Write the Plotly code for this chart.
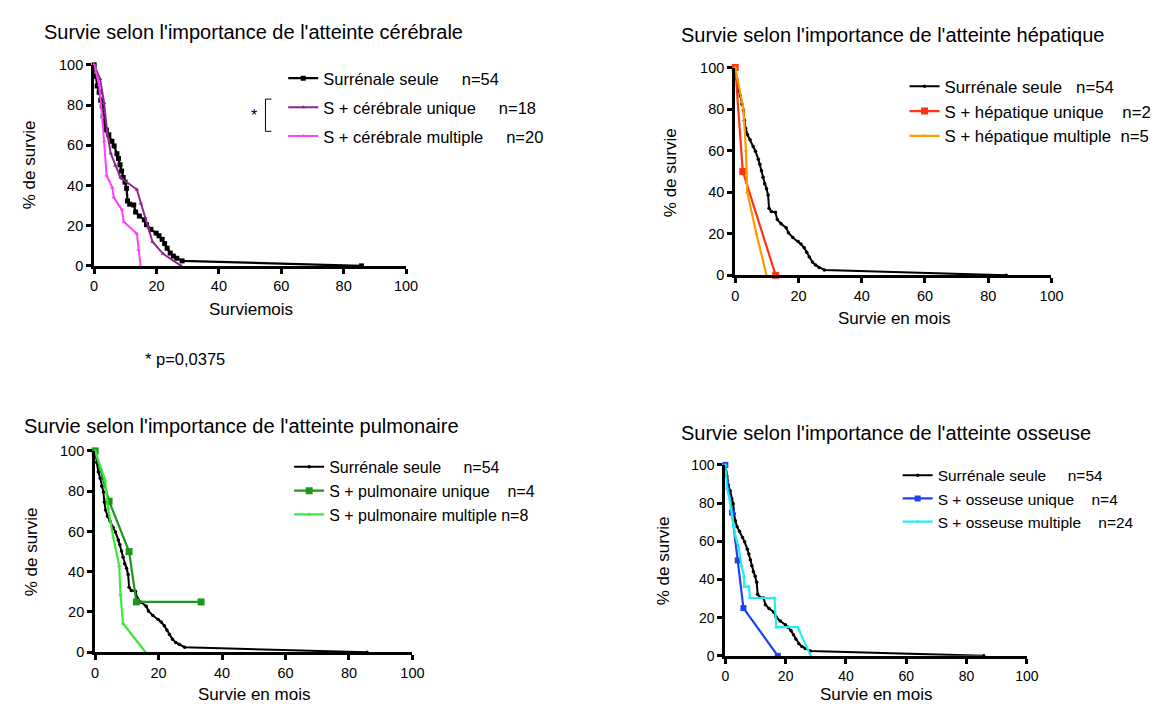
import plotly.graph_objects as go

W, H = 1163, 706

# ---------------- data ----------------
months_ticks = [0, 20, 40, 60, 80, 100]
pct_ticks = [0, 20, 40, 60, 80, 100]

# Surrénale seule n=54 (same group on all four panels)
surr_t = [0, 0.5, 1.0, 1.6, 2.1, 2.6, 2.9, 3.3, 3.9, 4.7, 5.7, 6.4, 7.3, 7.8, 8.3, 8.8,
          9.3, 9.9, 10.4, 10.7, 11.4, 12.7, 13.3, 14.5, 16.1, 16.8, 18.2, 19.9, 20.8,
          21.8, 22.6, 23.4, 24.4, 25.4, 26.5, 28.2, 85.7]
surr_s = [100, 94.2, 89.5, 86.4, 82.4, 79.6, 74.6, 70.7, 67.6, 65.2, 62.0, 59.7, 55.8,
          53.4, 50.3, 47.2, 44.0, 41.7, 38.6, 32.3, 30.7, 30.3, 26.8, 24.8, 22.9, 20.5,
          18.2, 16.3, 15.0, 13.2, 11.1, 8.8, 6.4, 4.9, 3.8, 2.5, 0]

# Panel 1 : cérébrale
cer_uni_t = [0, 1.9, 3.2, 4.2, 5.3, 6.8, 8.4, 13.7, 15.0, 17.4, 18.7, 22.1, 27.9]
cer_uni_s = [100, 93, 81, 66, 56, 50, 44, 38, 31, 19, 12, 6, 0]
cer_mul_t = [0, 1.6, 2.6, 3.2, 4.0, 5.8, 6.3, 8.9, 9.5, 13.7, 14.2, 14.9]
cer_mul_s = [100, 90, 74, 62, 45, 39, 34, 28, 22, 16, 8, 0]

# Panel 2 : hépatique
hep_uni_t = [0, 2.4, 12.8]
hep_uni_s = [100, 50, 0]
hep_mul_t = [0, 2.6, 3.4, 3.8, 6.7, 9.9]
hep_mul_s = [100, 80, 60, 40, 20, 0]

# Panel 3 : pulmonaire
pul_uni_t = [0, 4.4, 10.7, 13.0, 33.4]
pul_uni_s = [100, 75, 50, 25, 25]
pul_mul_t = [0, 3.1, 4.1, 5.7, 7.6, 8.0, 8.8, 15.9]
pul_mul_s = [100, 85.7, 71.4, 57.1, 42.9, 28.6, 14.3, 0]

# Panel 4 : osseuse
oss_uni_t = [0, 2.2, 4.1, 6.0, 17.4]
oss_uni_s = [100, 75, 50, 25, 0]
oss_mul_t = [0, 0.5, 1.3, 2.7, 3.3, 4.4, 5.4, 6.2, 6.3, 7.8, 8.2, 16.3, 16.9, 24.0, 28.3]
oss_mul_s = [100, 88, 82.5, 68, 63, 57, 47, 41.6, 36.3, 36.3, 30.3, 30.3, 15, 15, 0]

titles = ["Survie selon l'importance de l'atteinte cérébrale",
          "Survie selon l'importance de l'atteinte hépatique",
          "Survie selon l'importance de l'atteinte pulmonaire",
          "Survie selon l'importance de l'atteinte osseuse"]
xtitles = ["Surviemois", "Survie en mois", "Survie en mois", "Survie en mois"]
ytitle = "% de survie"

NB = "\u00a0"
FONT = "Liberation Sans, Arial, Helvetica, sans-serif"


def px_x(p):
    return p / W


def px_y(p):
    return 1 - p / H


fig = go.Figure()

# panel geometry in pixels: (left, right, top, bottom)
panels = [
    dict(l=83.3, r=399.5, t=50.0, b=255.7, tick=14.5),
    dict(l=733.3, r=1054.0, t=52.7, b=265.3, tick=14.5),
    dict(l=84.3, r=406.0, t=445.0, b=651.0, tick=14.5),
    dict(l=723.3, r=1029.0, t=459.3, b=654.7, tick=14),
]

series = [
    [  # panel 1
        dict(t=surr_t, s=surr_s, name="Surrénale seule" + NB * 5 + "n=54", color="black",
             sym="square", size=5, width=2.2),
        dict(t=cer_uni_t, s=cer_uni_s, name="S + cérébrale unique" + NB * 5 + "n=18",
             color="#8E278D", sym="triangle-up", size=4, width=2),
        dict(t=cer_mul_t, s=cer_mul_s, name="S + cérébrale multiple" + NB * 5 + "n=20",
             color="#FF40FF", sym="triangle-up", size=4, width=2),
    ],
    [  # panel 2
        dict(t=surr_t, s=surr_s, name="Surrénale seule" + NB * 3 + "n=54", color="black",
             sym="circle", size=3.5, width=2),
        dict(t=hep_uni_t, s=hep_uni_s, name="S + hépatique unique" + NB * 4 + "n=2",
             color="#FF3311", sym="square", size=7, width=2.2),
        dict(t=hep_mul_t, s=hep_mul_s, name="S + hépatique multiple" + NB * 2 + "n=5",
             color="#FF9A00", sym="triangle-up", size=4, width=2.2),
    ],
    [  # panel 3
        dict(t=surr_t, s=surr_s, name="Surrénale seule" + NB * 5 + "n=54", color="black",
             sym="circle", size=3.5, width=2),
        dict(t=pul_uni_t, s=pul_uni_s, name="S + pulmonaire unique" + NB * 4 + "n=4",
             color="#1E961E", sym="square", size=7, width=2.2),
        dict(t=pul_mul_t, s=pul_mul_s, name="S + pulmonaire multiple" + NB + "n=8",
             color="#3CE83C", sym="triangle-up", size=4, width=2.2),
    ],
    [  # panel 4
        dict(t=surr_t, s=surr_s, name="Surrénale seule" + NB * 5 + "n=54", color="black",
             sym="circle", size=3.5, width=2),
        dict(t=oss_uni_t, s=oss_uni_s, name="S + osseuse unique" + NB * 4 + "n=4",
             color="#1F42EE", sym="square", size=6, width=2.2),
        dict(t=oss_mul_t, s=oss_mul_s, name="S + osseuse multiple" + NB * 4 + "n=24",
             color="#22EEEE", sym="triangle-up", size=4, width=2.2),
    ],
]

legend_pos = [
    dict(x=275, y=46, size=16.5, gap=4.5),
    dict(x=905, y=54, size=16.8, gap=0),
    dict(x=281, y=444, size=16, gap=0),
    dict(x=898, y=453, size=15.5, gap=0),
]

for i, (pan, ser) in enumerate(zip(panels, series)):
    k = "" if i == 0 else str(i + 1)
    leg = "legend" + k
    for j, sd in enumerate(ser):
        fig.add_trace(go.Scatter(
            x=sd["t"], y=sd["s"], mode="lines+markers", name=sd["name"],
            xaxis="x" + k, yaxis="y" + k, legend=leg, legendgroup=f"p{i}s{j}",
            line=dict(color=sd["color"], width=sd["width"]),
            marker=dict(symbol=sd["sym"], size=sd["size"], color=sd["color"],
                        line=dict(width=0)),
            cliponaxis=False, hoverinfo="x+y+name",
        ))
    ax = dict(range=[0, 100], showline=True, linecolor="black", linewidth=3,
              ticks="outside", ticklen=5, tickwidth=2.5, tickcolor="black",
              showgrid=False, zeroline=False, fixedrange=True,
              tickfont=dict(family=FONT, size=pan["tick"], color="black"))
    fig.update_layout(**{
        "xaxis" + k: dict(ax, domain=[px_x(pan["l"]), px_x(pan["r"])],
                          anchor="y" + k, tickvals=months_ticks),
        "yaxis" + k: dict(ax, domain=[px_y(pan["b"]), px_y(pan["t"])],
                          anchor="x" + k, tickvals=pct_ticks),
    })
    lp = legend_pos[i]
    fig.update_layout(**{leg: dict(
        x=px_x(lp["x"]), y=px_y(lp["y"]), xanchor="left", yanchor="top",
        xref="paper", yref="paper", bgcolor="rgba(0,0,0,0)", borderwidth=0,
        font=dict(family=FONT, size=lp["size"], color="black"),
        tracegroupgap=lp["gap"], itemwidth=30, itemclick=False, itemdoubleclick=False,
    )})

annotations = []
# titles
title_pos = [(30, 16.5), (676, 19), (10, 419), (676, 427)]
for txt, (x, y) in zip(titles, title_pos):
    annotations.append(dict(text=txt, x=px_x(x), y=px_y(y), xref="paper", yref="paper",
                            xanchor="left", yanchor="middle", showarrow=False,
                            font=dict(family=FONT, size=20, color="black")))
# x axis titles
xt_pos = [(242, 300), (894, 310), (245, 694), (876, 694)]
for txt, (x, y) in zip(xtitles, xt_pos):
    annotations.append(dict(text=txt, x=px_x(x), y=px_y(y), xref="paper", yref="paper",
                            xanchor="center", yanchor="middle", showarrow=False,
                            font=dict(family=FONT, size=17, color="black")))
# y axis titles
yt_pos = [(18, 152), (668, 160), (20, 548), (660, 557)]
for (x, y) in yt_pos:
    annotations.append(dict(text=ytitle, x=px_x(x), y=px_y(y), xref="paper", yref="paper",
                            xanchor="center", yanchor="middle", showarrow=False, textangle=-90,
                            font=dict(family=FONT, size=17, color="black")))
# significance marker
annotations.append(dict(text="*", x=px_x(245), y=px_y(102), xref="paper", yref="paper",
                        xanchor="center", yanchor="middle", showarrow=False,
                        font=dict(family=FONT, size=16, color="black")))
annotations.append(dict(text="* p=0,0375", x=px_x(133), y=px_y(350.5), xref="paper",
                        yref="paper", xanchor="left", yanchor="middle", showarrow=False,
                        font=dict(family=FONT, size=16.5, color="black")))

bracket = dict(type="path", xref="paper", yref="paper",
               path=(f"M {px_x(263)} {px_y(85)} L {px_x(257)} {px_y(85)} "
                     f"L {px_x(257)} {px_y(118)} L {px_x(263)} {px_y(118)}"),
               line=dict(color="black", width=1))

fig.update_layout(
    width=W, height=H, margin=dict(l=0, r=0, t=0, b=0),
    paper_bgcolor="white", plot_bgcolor="white",
    annotations=annotations, shapes=[bracket], showlegend=True,
    font=dict(family=FONT, color="black"),
)

fig.write_html("out.html")
